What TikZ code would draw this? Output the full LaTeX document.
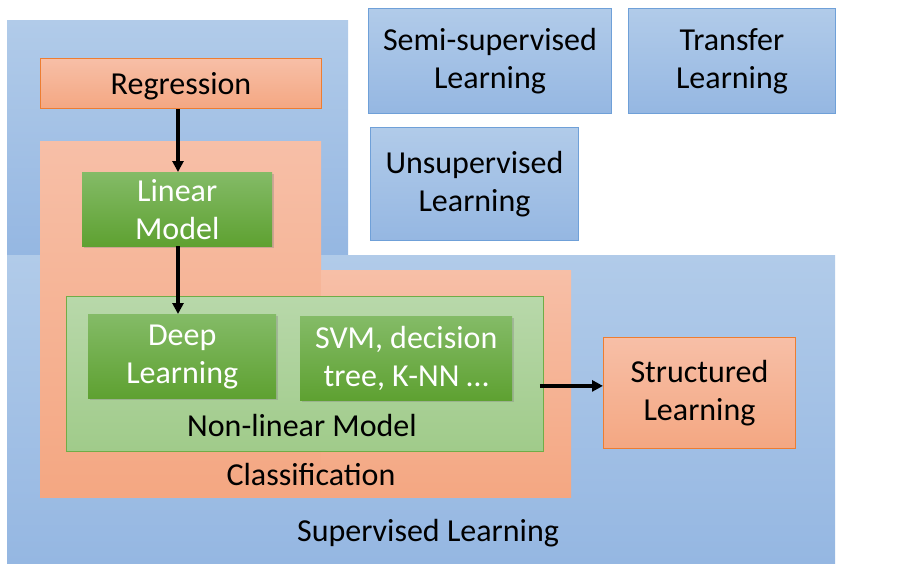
\documentclass[tikz,border=0pt]{standalone}
\usepackage{fontspec}
\setmainfont{Carlito}
\usetikzlibrary{arrows.meta,shadows}
\definecolor{bluetop}{HTML}{B1CBE9}
\definecolor{bluebot}{HTML}{95B7E2}
\definecolor{blueedge}{HTML}{6FA0D8}
\definecolor{ortop}{HTML}{F7BFA7}
\definecolor{orbot}{HTML}{F4A782}
\definecolor{oredge}{HTML}{ED7D31}
\definecolor{gtop}{HTML}{84BB67}
\definecolor{gbot}{HTML}{5EA131}
\definecolor{lgtop}{HTML}{B8D8AA}
\definecolor{lgbot}{HTML}{A0CB8A}
\definecolor{lgedge}{HTML}{70AD47}
\tikzset{
  x=1pt,y=-1pt,
  every node/.style={font=\fontsize{32}{38}\selectfont, align=center, inner sep=0pt},
  txt/.style={yshift=-3pt},
  txtt/.style={yshift=-0.5pt},
  box/.style={anchor=north west, minimum width=#1},
  region/.style={top color=bluetop, bottom color=bluebot},
  bluebox/.style={top color=bluetop, bottom color=bluebot, draw=blueedge, line width=1pt},
  orbox/.style={top color=ortop, bottom color=orbot, draw=oredge, line width=1pt},
  orregion/.style={top color=ortop, bottom color=orbot},
  greenbox/.style={top color=gtop, bottom color=gbot, text=white,
    drop shadow={opacity=0.35, shadow xshift=1.5pt, shadow yshift=-2pt}},
  lgbox/.style={top color=lgtop, bottom color=lgbot, draw=lgedge, line width=0.8pt},
  arr/.style={line width=3.6pt, -{Triangle[length=11pt,width=11pt]}},
}
\begin{document}
\begin{tikzpicture}
\useasboundingbox (0,0) rectangle (898,576);
% supervised region (L-shape)
\node[region, box=341pt, minimum height=235pt] (supA) at (7,20) {};
\node[region, box=828pt, minimum height=308pt] (supB) at (7,255) {};
% top-right boxes
\node[bluebox, box=243pt, minimum height=105pt] (semi) at (368,8) {};
\node[txtt] at (semi.center) {Semi-supervised\\Learning};
\node[bluebox, box=207pt, minimum height=105pt] (trans) at (628,8) {};
\node[txtt] at (trans.center) {Transfer\\Learning};
\node[bluebox, box=208pt, minimum height=113pt] (unsup) at (370,127) {};
\node[txtt] at (unsup.center) {Unsupervised\\Learning};
% regression
\node[orbox, box=281pt, minimum height=50pt] (reg) at (40,58) {};
\node[txt] at (reg.center) {Regression};
% classification region
\node[orregion, box=281pt, minimum height=356pt] (clsA) at (40,141) {};
\node[orregion, box=250pt, minimum height=227pt] (clsB) at (321,270) {};
% linear model
\node[greenbox, box=190pt, minimum height=74pt] (lin) at (82,172) {};
\node[txtt, text=white] at (lin.center) {Linear\\Model};
% nonlinear region
\node[lgbox, box=477pt, minimum height=155pt] (nonlin) at (66,296) {};
\node[greenbox, box=188pt, minimum height=84pt] (deep) at (88,314) {};
\node[txtt, text=white] at (deep.center) {Deep\\Learning};
\node[greenbox, box=212pt, minimum height=84pt] (svm) at (300,316) {};
\node[txtt, text=white] at (svm.center) {SVM, decision\\tree, K-NN \dots};
\node[txt] (nltext) at (302,423) {Non-linear Model};
\node[txt] (clstext) at (311,472) {Classification};
\node[txt] (suptext) at (428,530) {Supervised Learning};
% structured
\node[orbox, box=192pt, minimum height=111pt] (struct) at (603,337) {};
\node[txtt] at (struct.center) {Structured\\Learning};
% arrows
\draw[arr] (reg.south -| 178,0) -- (lin.north -| 178,0);
\draw[arr] (lin.south -| 178,0) -- (deep.north -| 178,0);
\draw[arr] ([xshift=-4pt,yshift=-12pt]nonlin.east) coordinate (a0) -- (a0 -| struct.west);
\end{tikzpicture}
\end{document}
